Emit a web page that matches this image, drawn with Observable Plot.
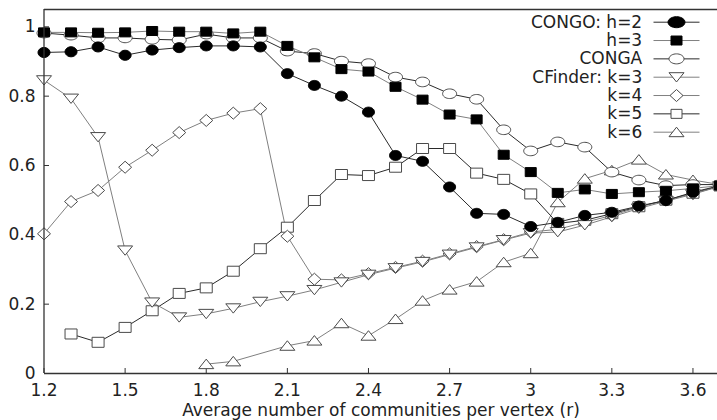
<!DOCTYPE html>
<html><head><meta charset="utf-8">
<script src="https://cdn.jsdelivr.net/npm/d3@7"></script>
<script src="https://cdn.jsdelivr.net/npm/@observablehq/plot@0.6"></script>
<style>html,body{margin:0;padding:0;background:#fff;overflow:hidden}</style>
</head><body><div id="chart"></div>
<script>
// x values: average number of communities per vertex (r)
const r = [1.2,1.3,1.4,1.5,1.6,1.7,1.8,1.9,2.0,2.1,2.2,2.3,2.4,2.5,2.6,2.7,2.8,2.9,3.0,3.1,3.2,3.3,3.4,3.5,3.6,3.7];

const congoH2 = [0.926,0.928,0.942,0.918,0.933,0.940,0.945,0.945,0.942,0.865,0.831,0.800,0.754,0.629,0.612,0.538,0.462,0.459,0.424,0.436,0.456,0.465,0.483,0.499,0.523,0.542];
const congoH3 = [0.984,0.984,0.983,0.984,0.988,0.986,0.986,0.981,0.986,0.945,0.912,0.878,0.871,0.827,0.790,0.747,0.733,0.631,0.581,0.521,0.531,0.518,0.523,0.527,0.534,0.542];
const conga   = [0.982,0.976,0.968,0.968,0.964,0.962,0.979,0.968,0.968,0.930,0.923,0.901,0.894,0.855,0.841,0.807,0.791,0.703,0.642,0.668,0.653,0.581,0.558,0.542,0.545,0.545];
const cfK3    = [0.846,0.793,0.682,0.355,0.205,0.162,0.172,0.188,0.207,0.223,0.241,0.263,0.285,0.304,0.322,0.343,0.364,0.385,0.405,0.408,0.428,0.452,0.476,0.497,0.517,0.540];
const cfK4    = [0.403,0.496,0.528,0.595,0.644,0.695,0.730,0.751,0.764,0.396,0.272,0.270,0.288,0.306,0.324,0.345,0.366,0.386,0.408,0.416,0.436,0.456,0.480,0.500,0.519,0.540];
const cfK5    = [null,0.114,0.090,0.133,0.181,0.231,0.247,0.295,0.360,0.422,0.499,0.574,0.571,0.595,0.649,0.649,0.578,0.560,0.518,0.433,0.442,0.461,0.481,0.500,0.520,0.541];
const cfK6    = [null,null,null,null,null,null,0.027,0.035,null,0.080,0.095,0.145,0.109,0.157,0.210,0.242,0.265,0.321,0.347,0.494,0.562,0.586,0.617,0.574,0.558,0.545];

const labels = ["CONGO: h=2","h=3","CONGA","CFinder: k=3","k=4","k=5","k=6"];
const xTicks = [1.2,1.5,1.8,2.1,2.4,2.7,3.0,3.3,3.6];
const yTicks = [0,0.2,0.4,0.6,0.8,1];
const xLabel = "Average number of communities per vertex (r)";

// marker shapes
function poly(pts){return {draw(ctx){ctx.moveTo(pts[0][0],pts[0][1]);for(let i=1;i<pts.length;i++)ctx.lineTo(pts[i][0],pts[i][1]);ctx.closePath();}};}
function ellipse(rx,ry){const p=[];for(let i=0;i<36;i++){const a=i/36*2*Math.PI;p.push([rx*Math.cos(a),ry*Math.sin(a)]);}return poly(p);}
function rect(w,h){return poly([[-w/2,-h/2],[w/2,-h/2],[w/2,h/2],[-w/2,h/2]]);}
const symFilledCircle = ellipse(6,5);
const symFilledSquare = rect(11,9);
const symOpenCircle = ellipse(7,4.8);
const symDown = poly([[-7.5,-4.5],[7.5,-4.5],[0,4.8]]);
const symDiamond = poly([[0,-6],[6.5,0],[0,6],[-6.5,0]]);
const symOpenSquare = rect(12,10);
const symUp = poly([[0,-5],[7.5,4.5],[-7.5,4.5]]);
const segment = {draw(ctx){ctx.moveTo(-23,0);ctx.lineTo(23,0);}};

const DARK = "#2a2a2a", GRAY = "#808080", OPEN = "#4a4a4a";
const series = [
  {values: congoH2, label: labels[0], symbol: symFilledCircle, legendSymbol: ellipse(8.5,5.5), fill: "#000", stroke: "#000", line: DARK},
  {values: congoH3, label: labels[1], symbol: symFilledSquare, legendSymbol: rect(11,9), fill: "#000", stroke: "#000", line: GRAY},
  {values: conga,   label: labels[2], symbol: symOpenCircle, legendSymbol: ellipse(7.5,5), fill: "#fff", stroke: OPEN, line: DARK},
  {values: cfK3,    label: labels[3], symbol: symDown, legendSymbol: symDown, fill: "#fff", stroke: OPEN, line: GRAY},
  {values: cfK4,    label: labels[4], symbol: symDiamond, legendSymbol: symDiamond, fill: "#fff", stroke: OPEN, line: GRAY},
  {values: cfK5,    label: labels[5], symbol: symOpenSquare, legendSymbol: rect(11,9), fill: "#fff", stroke: OPEN, line: DARK},
  {values: cfK6,    label: labels[6], symbol: symUp, legendSymbol: symUp, fill: "#fff", stroke: OPEN, line: GRAY}
];
series.forEach(s => { s.data = r.map((x,i)=>({x, y: s.values[i]})).filter(d => d.y != null); });

const drawOrder = [6,5,4,3,2,1,0].map(i => series[i]);
const W = 717, H = 420, ML = 44, MR = 0, MT = 9, MB = 47;
const frameW = W - ML - MR, frameH = H - MT - MB;

const marks = [
  // inward tick marks
  Plot.tickX(xTicks, {x: d=>d, insetTop: frameH - 5, stroke: "#333", strokeWidth: 1}),
  Plot.tickY(yTicks, {y: d=>d, insetRight: frameW - 5, stroke: "#333", strokeWidth: 1}),
  // lines
  ...drawOrder.map(s => Plot.line(s.data, {x: "x", y: "y", stroke: s.line, strokeWidth: 1})),
  // markers
  ...drawOrder.map(s => Plot.dot(s.data, {x: "x", y: "y", symbol: s.symbol, fill: s.fill, stroke: s.stroke, strokeWidth: 1})),
  // border
  Plot.ruleX([1.2], {stroke: "#333", strokeWidth: 1.3}),
  Plot.ruleY([0], {stroke: "#333", strokeWidth: 1.3}),
  Plot.ruleY([1.05], {stroke: "#333", strokeWidth: 1.3}),
  // axes labels
  Plot.axisX(xTicks, {tickSize: 0, tickPadding: 10, tickFormat: d => String(d), label: null, fill: "#222"}),
  Plot.axisY(yTicks, {tickSize: 0, tickPadding: 9, tickFormat: d => String(d), label: null, fill: "#222"}),
  Plot.text([xLabel], {x: null, y: null, frameAnchor: "bottom", dy: 37.5, text: d=>d, lineAnchor: "middle", fill: "#222"}),
  // legend
  ...series.flatMap((s, i) => {
    const dy = 12.7 + i * 18.33;
    return [
      Plot.text([s.label], {x: null, y: null, frameAnchor: "top-right", dx: -75.3, dy, text: d=>d, textAnchor: "end", lineAnchor: "middle", fill: "#222"}),
      Plot.dot([0], {x: null, y: null, frameAnchor: "top-right", dx: -41, dy, symbol: segment, fill: "none", stroke: s.line, strokeWidth: 1}),
      Plot.dot([0], {x: null, y: null, frameAnchor: "top-right", dx: -41, dy, symbol: s.legendSymbol, fill: s.fill, stroke: s.stroke, strokeWidth: 1})
    ];
  })
];

const chart = Plot.plot({
  width: W, height: H,
  marginLeft: ML, marginRight: MR, marginTop: MT, marginBottom: MB,
  style: {fontFamily: "'DejaVu Sans', sans-serif", fontSize: "17px", background: "#fff", color: "#222"},
  x: {domain: [1.2, 3.7], range: [43.5, 719.5], axis: null},
  y: {domain: [0, 1.05], axis: null},
  marks
});
document.getElementById("chart").appendChild(chart);
</script>
</body></html>
